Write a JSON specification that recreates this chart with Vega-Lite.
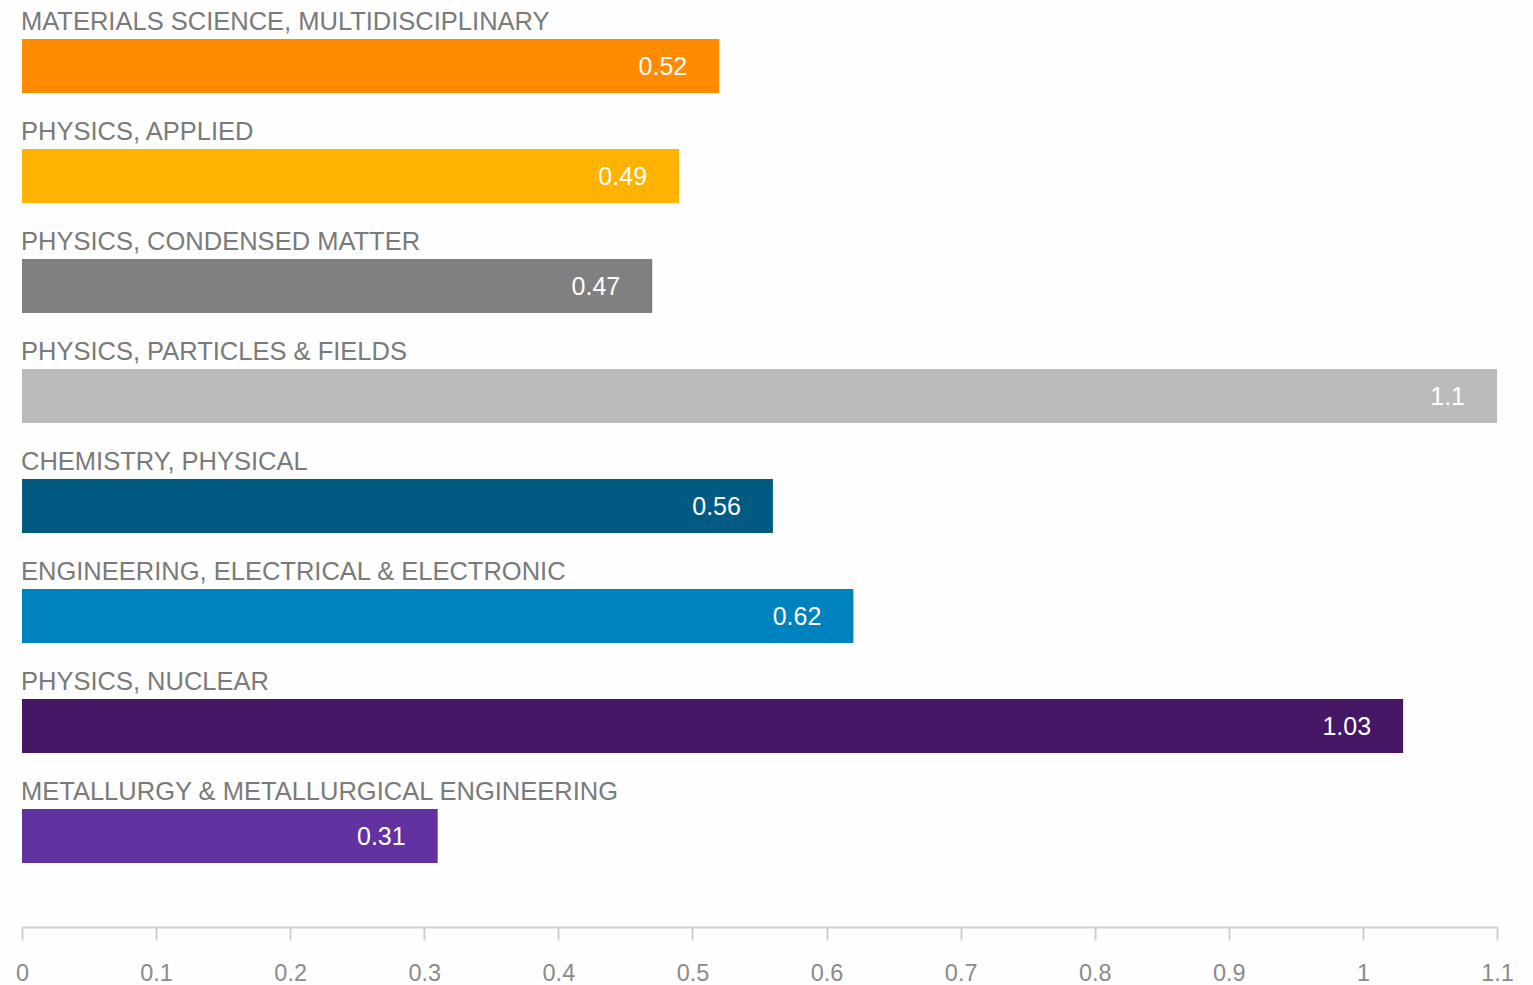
{
  "$schema": "https://vega.github.io/schema/vega-lite/v6.json",
  "width": 1475,
  "height": 927,
  "padding": {"left": 22, "top": 0, "right": 36, "bottom": 58},
  "autosize": {"type": "none"},
  "background": "#fefefe",
  "config": {
    "view": {"stroke": null},
    "font": "Liberation Sans"
  },
  "data": {
    "values": [
      {"category": "MATERIALS SCIENCE, MULTIDISCIPLINARY", "value": 0.52},
      {"category": "PHYSICS, APPLIED", "value": 0.49},
      {"category": "PHYSICS, CONDENSED MATTER", "value": 0.47},
      {"category": "PHYSICS, PARTICLES & FIELDS", "value": 1.1},
      {"category": "CHEMISTRY, PHYSICAL", "value": 0.56},
      {"category": "ENGINEERING, ELECTRICAL & ELECTRONIC", "value": 0.62},
      {"category": "PHYSICS, NUCLEAR", "value": 1.03},
      {"category": "METALLURGY & METALLURGICAL ENGINEERING", "value": 0.31}
    ]
  },
  "encoding": {
    "y": {
      "field": "category",
      "type": "nominal",
      "sort": null,
      "axis": null,
      "scale": {"paddingInner": 0, "paddingOuter": 0.2136, "align": 0.234}
    }
  },
  "layer": [
    {
      "mark": {"type": "bar", "height": 54},
      "encoding": {
        "x": {
          "field": "value",
          "type": "quantitative",
          "scale": {"domain": [0, 1.1], "nice": false},
          "axis": {
            "title": null,
            "grid": false,
            "values": [0, 0.1, 0.2, 0.3, 0.4, 0.5, 0.6, 0.7, 0.8, 0.9, 1, 1.1],
            "format": "~g",
            "domainColor": "#d0d0d0",
            "domainWidth": 2,
            "tickColor": "#d0d0d0",
            "tickWidth": 2,
            "tickSize": 13,
            "labelFontSize": 23.5,
            "labelColor": "#8a8a8a",
            "labelPadding": 21,
            "labelFlush": false
          }
        },
        "color": {
          "field": "category",
          "type": "nominal",
          "legend": null,
          "scale": {
            "domain": [
              "MATERIALS SCIENCE, MULTIDISCIPLINARY",
              "PHYSICS, APPLIED",
              "PHYSICS, CONDENSED MATTER",
              "PHYSICS, PARTICLES & FIELDS",
              "CHEMISTRY, PHYSICAL",
              "ENGINEERING, ELECTRICAL & ELECTRONIC",
              "PHYSICS, NUCLEAR",
              "METALLURGY & METALLURGICAL ENGINEERING"
            ],
            "range": ["#ff8c00", "#ffb300", "#808080", "#bbbbbb", "#005a82", "#0082be", "#461764", "#6232a0"]
          }
        }
      }
    },
    {
      "mark": {"type": "text", "align": "right", "baseline": "middle", "dx": -32, "dy": 1, "fontSize": 25, "color": "#ffffff"},
      "encoding": {
        "x": {"field": "value", "type": "quantitative"},
        "text": {"field": "value", "type": "quantitative", "format": "~g"}
      }
    },
    {
      "mark": {"type": "text", "align": "left", "baseline": "middle", "dy": -44, "dx": -1, "fontSize": 25.5, "color": "#7a7a7a"},
      "encoding": {
        "x": {"datum": 0, "type": "quantitative"},
        "text": {"field": "category", "type": "nominal"}
      }
    }
  ]
}
